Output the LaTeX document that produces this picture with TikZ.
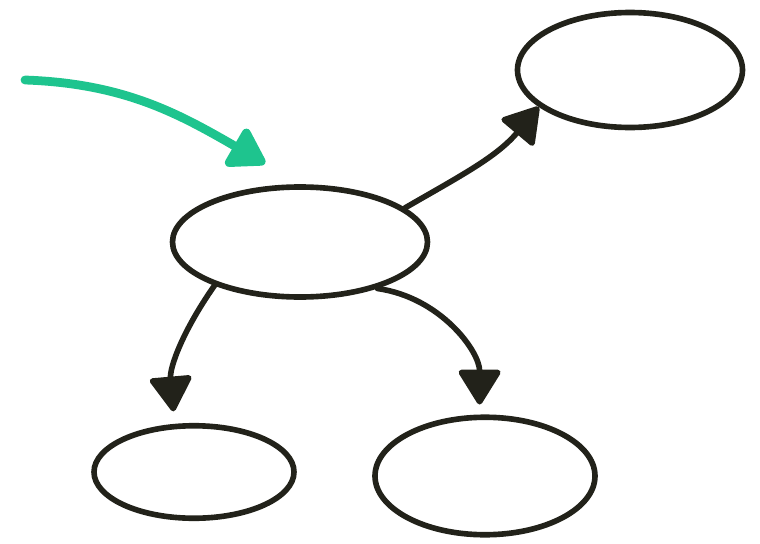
\documentclass[tikz,border=0pt]{standalone}
\usetikzlibrary{shapes.geometric,arrows.meta}
\definecolor{ink}{HTML}{22221A}
\definecolor{mint}{HTML}{1EC48E}
\tikzset{
  blob/.style={ellipse, draw=ink, line width=3.2pt, inner sep=0pt},
  link/.style={draw=ink, line width=3.2pt, line cap=round,
    -{Triangle[length=0.75cm,width=0.9cm,round]}},
  hint/.style={draw=mint, line width=5pt, line cap=round,
    -{Triangle[length=0.8cm,width=0.95cm,round]}}
}
\begin{document}
\begin{tikzpicture}
\useasboundingbox (0,0) rectangle (15.2,-10.88);
\node[blob, minimum width=5.1cm, minimum height=2.2cm] (c) at (6.0,-4.84) {};
\node[blob, minimum width=4.5cm, minimum height=2.3cm] (tr) at (12.6,-1.4) {};
\node[blob, minimum width=4.0cm, minimum height=1.85cm] (bl) at (3.88,-9.44) {};
\node[blob, minimum width=4.4cm, minimum height=2.35cm] (br) at (9.7,-9.52) {};
\coordinate (gs) at (0.5,-1.6);
\coordinate (ge) at (5.3,-3.27);
\draw[hint] (gs) to[out=-2, in=150] (ge);
\draw[link] (c.18) to[out=30, in=230] (tr.202);
\draw[link, shorten >=0.25cm] (c.207) to[out=235, in=95] (bl.112);
\draw[link, shorten >=0.2cm] (c.-31) to[out=-8, in=90] (br.95);
\end{tikzpicture}
\end{document}
